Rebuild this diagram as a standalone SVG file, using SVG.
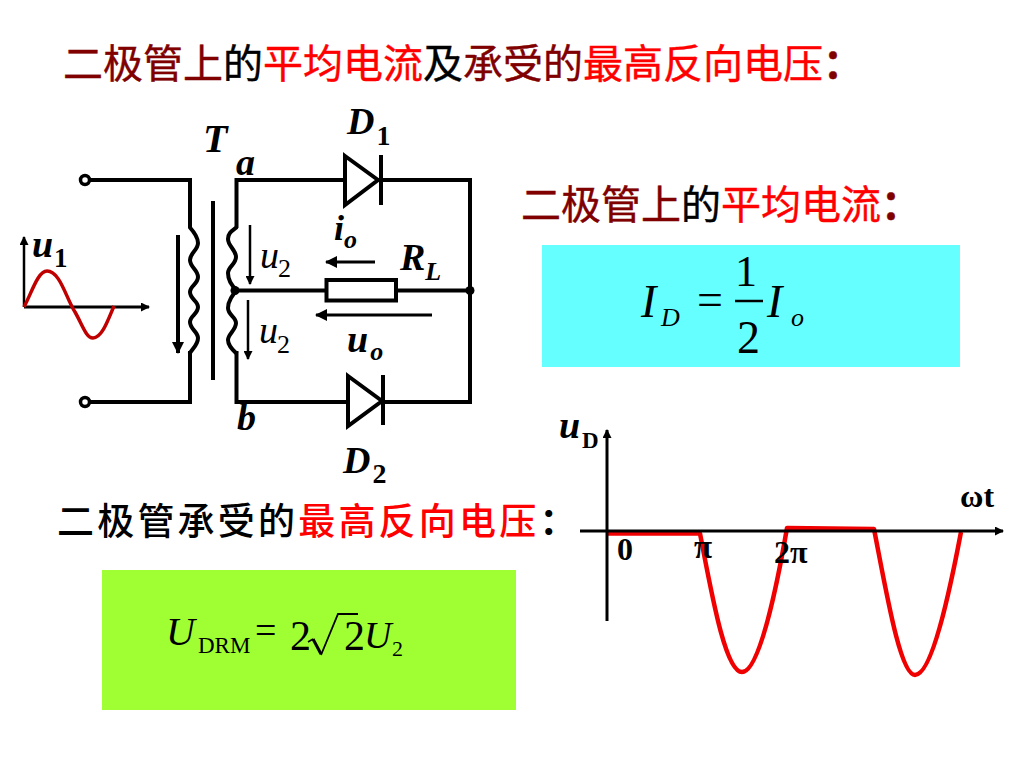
<svg xmlns="http://www.w3.org/2000/svg" width="1024" height="768" viewBox="0 0 1024 768">
<style>
text{font-family:"Liberation Serif","Noto Sans CJK SC",serif;fill:#000}
.cn{font-family:"Noto Sans CJK SC","Liberation Serif",serif;font-size:40px;font-weight:400;stroke:#000;stroke-width:.4px}
.cn2{font-family:"Noto Sans CJK SC","Liberation Serif",serif;font-size:37px;font-weight:500;letter-spacing:3.2px}
.dr{fill:#800000;stroke:#800000}.rd{fill:#f00;stroke:#f00}.cl{font-weight:700}
.cn2 .rd{stroke:none}
.bi{font-weight:bold;font-style:italic}
.w{fill:none;stroke:#000;stroke-width:4;stroke-linecap:square}
.c{fill:none;stroke:#000;stroke-width:4}
.t{fill:none;stroke:#000;stroke-width:2.5}
.ax{fill:none;stroke:#000;stroke-width:3}
.r{fill:none;stroke:#f00000;stroke-width:4.5;stroke-linejoin:round}
.fm{font-style:italic}
</style>
<defs>
<marker id="a" markerWidth="9" markerHeight="9" refX="8" refY="4.5" orient="auto" markerUnits="userSpaceOnUse" viewBox="0 0 9 9"><path d="M0 0L9 4.5L0 9Z"/></marker>
<marker id="b" markerWidth="12" markerHeight="12" refX="11" refY="6" orient="auto" markerUnits="userSpaceOnUse" viewBox="0 0 12 12"><path d="M0 0L12 6L0 12Z"/></marker>
</defs>
<rect id="box-id" x="542" y="245" width="418" height="122" fill="#66ffff"/>
<rect id="box-udrm" x="102" y="570" width="414" height="140" fill="#a0ff33"/>
<g id="title"><text class="cn" x="63" y="78"><tspan class="dr">二极管上</tspan>的<tspan class="rd">平均电流</tspan>及<tspan class="dr">承受的</tspan><tspan class="rd">最高反向电压</tspan><tspan class="dr cl">：</tspan></text></g>
<g id="sub1"><text class="cn" x="521" y="219"><tspan class="dr">二极管上</tspan>的<tspan class="rd">平均电流</tspan><tspan class="dr cl">：</tspan></text></g>
<g id="sub2"><text class="cn2" x="57" y="535"><tspan>二极管承受的</tspan><tspan class="rd">最高反向电压</tspan><tspan class="cl">：</tspan></text></g>
<g id="wave2"><path class="r" d="M607 533.500H700C711 590 725 672 742 672C760 672 778 580 787 528L874 529C886 590 900 675 915 675C932 675 950 590 961 532"/></g>
<g id="connectors">
<path class="w" d="M91 180H190V226M91 402H190V353"/>
<path class="w" d="M236.500 226V180H470V402H236.500V353"/>
<path class="w" d="M236 290.500H326M396 290.500H470"/>
<path class="c" d="M189.500 227C194 232 198 238 198 243C198 250 190 253 190 260C190 267 198 270 198 277C198 284 190 286 190 292C190 299 198 301 198 307C198 314 190 316 190 322C190 329 198 332 198 338C198 345 192 349 189.500 354"/>
<path class="c" d="M237 227C232 231 228 233 228 239C228 246 236 250 236 257C236 264 228 267 228 273C228 281 233 287 237 290.500C233 294 228 301 228 308C228 315 236 317 236 323C236 330 228 334 228 340C228 346 233 350 237 354"/>
<path d="M213 201V380" fill="none" stroke="#000" stroke-width="4"/>
<path d="M178 235V353" class="c" marker-end="url(#b)"/>
<path d="M250 225V284" class="t" marker-end="url(#a)"/>
<path d="M248 300V359" class="t" marker-end="url(#a)"/>
<path d="M375 262H326" class="ax" marker-end="url(#b)"/>
<path d="M432 315H316" class="ax" marker-end="url(#b)"/>
<path d="M24 307V237" class="t" marker-end="url(#a)"/>
<path d="M24 307H149" class="ax" marker-end="url(#a)"/>
<path d="M607 621V430" class="ax" marker-end="url(#a)"/>
<path d="M580 531H1003" class="ax" marker-end="url(#a)"/>
</g>
<g id="source-a"><circle cx="85" cy="180" r="4.500" fill="#fff" stroke="#000" stroke-width="3.500"/></g>
<g id="source-b"><circle cx="85" cy="402" r="4.500" fill="#fff" stroke="#000" stroke-width="3.500"/></g>
<g id="diode1"><path d="M345 156L378 180L345 205Z" fill="#fff" stroke="#000" stroke-width="4"/><path d="M381 155V205" class="c"/></g>
<g id="diode2"><path d="M348 376L382 401L348 426Z" fill="#fff" stroke="#000" stroke-width="4"/><path d="M383 375V425" class="c"/></g>
<g id="resistor"><rect x="326.500" y="280" width="69.500" height="20.500" fill="#fff" stroke="#000" stroke-width="4"/></g>
<g id="junction-r"><circle cx="470" cy="290.500" r="4.500"/></g>
<g id="junction-l"><circle cx="235" cy="290.500" r="4.500"/></g>
<g id="wave1"><path d="M24 307C32 292 38 271 47 271C60 271 66 298 75 312C82 324 86 338 93 338C102 338 108 320 114 306" fill="none" stroke="#c00000" stroke-width="3.500"/></g>
<g id="labels">
<text class="bi" x="203" y="152" font-size="40">T</text>
<text class="bi" x="236" y="175" font-size="38">a</text>
<text class="bi" x="237" y="430" font-size="38">b</text>
<text class="bi" x="347" y="134" font-size="38">D<tspan dx="2" dy="11" font-size="28" font-style="normal">1</tspan></text>
<text class="bi" x="343" y="473" font-size="38">D<tspan dx="2" dy="10" font-size="28" font-style="normal">2</tspan></text>
<text class="bi" x="334" y="240" font-size="36">i<tspan dy="8" font-size="26">o</tspan></text>
<text class="bi" x="400" y="270" font-size="38">R<tspan dy="10" font-size="26">L</tspan></text>
<text class="bi" x="347" y="352" font-size="38">u<tspan dx="2" dy="8" font-size="26">o</tspan></text>
<text class="fm" x="260" y="268" font-size="38">u</text><text x="278" y="277" font-size="26">2</text>
<text class="fm" x="259" y="343" font-size="38">u</text><text x="277" y="353" font-size="26">2</text>
<text class="bi" x="32" y="257" font-size="38">u</text><text x="54" y="267" font-size="27" font-weight="bold">1</text>
<text class="bi" x="559" y="438" font-size="38">u</text><text x="582" y="448" font-size="23" font-weight="bold">D</text>
<text x="960" y="507" font-size="32" font-weight="bold">ωt</text>
<text x="617" y="560" font-size="32" font-weight="bold">0</text>
<text x="694" y="558" font-size="33" font-weight="bold">π</text>
<text x="774" y="563" font-size="32" font-weight="bold">2π</text>
</g>
<g id="formula-id">
<text class="fm" x="641" y="317" font-size="46">I</text><text class="fm" x="661" y="326" font-size="26">D</text>
<text x="697" y="315" font-size="46">=</text>
<text x="735" y="286" font-size="44">1</text><path d="M735 301H763" stroke="#000" stroke-width="2.500"/><text x="737" y="353" font-size="46">2</text>
<text class="fm" x="767" y="317" font-size="46">I</text><text class="fm" x="791" y="326" font-size="26">o</text>
</g>
<g id="formula-udrm">
<text class="fm" x="166" y="645" font-size="40">U</text><text x="198" y="653" font-size="23">DRM</text>
<text x="255" y="643" font-size="38">=</text>
<text x="290" y="650" font-size="42">2</text>
<path d="M308 642L313 639" fill="none" stroke="#000" stroke-width="1.500"/><path d="M313 639L321 654" fill="none" stroke="#000" stroke-width="3"/><path d="M321 655L338 614H358" fill="none" stroke="#000" stroke-width="1.800"/>
<text x="344" y="650" font-size="42">2</text>
<text class="fm" x="364" y="648" font-size="38">U</text><text x="392" y="656" font-size="22">2</text>
</g>
</svg>
